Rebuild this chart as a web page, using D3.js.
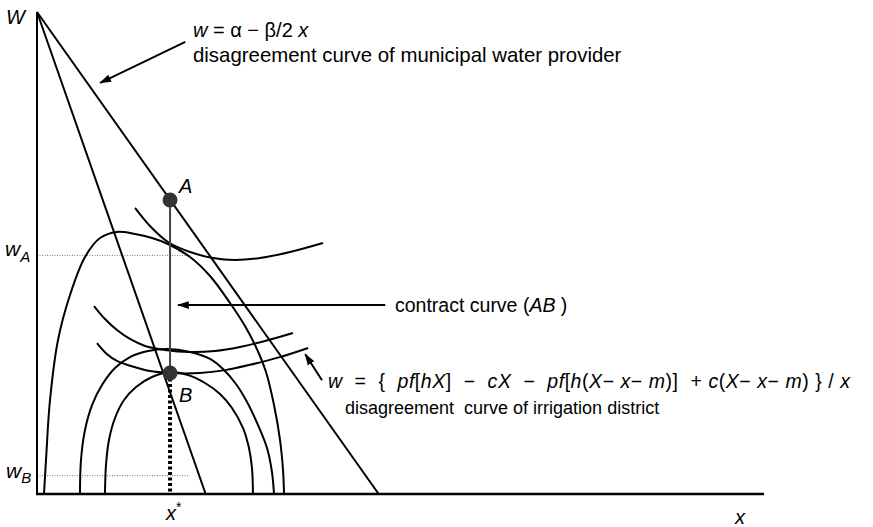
<!DOCTYPE html>
<html>
<head>
<meta charset="utf-8">
<script src="https://cdn.jsdelivr.net/npm/d3@7"></script>
<style>
  body { margin: 0; background: #fff; }
  svg text { font-family: "Liberation Sans", Arial, Helvetica, sans-serif; fill: #000; white-space: pre; }
</style>
</head>
<body>
<svg id="chart" width="873" height="527"></svg>
<script>
// values (chart units, x and W both 0..100)
let municipalLine = [[0, 100], [47.0, 0]]
let irrigationLine = [[0, 100], [23.2, 0]]

let humpOuter = [[0.96,0],[1.24,7.05],[1.79,19.5],[2.89,31.95],[4.54,41.29],[6.6,49.17],[8.67,53.11],[11.0,54.36],[13.48,53.94],[15.82,53.11],[18.02,51.87],[21.05,49.17],[23.8,45.23],[26.55,39.63],[28.61,34.85],[30.12,30.5],[31.5,25.31],[32.6,18.46],[33.43,11.2],[33.84,4.98],[33.98,0]]
let humpMiddle = [[5.91,0],[6.05,7.05],[6.6,13.28],[7.57,18.46],[8.94,22.61],[10.73,26.14],[12.79,28.42],[15.27,29.67],[17.88,30.08],[21.05,29.46],[23.8,28.01],[25.58,25.93],[27.37,22.82],[28.89,19.09],[30.4,14.32],[31.64,9.54],[32.32,4.56],[32.6,0]]
let humpInner = [[9.35,0],[9.49,6.02],[9.9,11.2],[10.73,15.77],[11.97,19.5],[13.62,22.2],[15.82,24.27],[18.29,25.31],[20.77,24.69],[23.11,23.03],[25.17,20.75],[26.82,17.84],[28.34,13.69],[29.16,9.54],[29.57,5.39],[29.71,0]]

let indiffTop = [[13.48,59.34],[15.54,55.6],[18.02,52.28],[21.05,50.21],[24.21,48.96],[27.24,48.55],[30.67,48.96],[34.8,50.21],[39.34,52.07]]
let indiffMid = [[7.84,39.0],[9.35,36.31],[11.0,34.02],[12.79,32.16],[14.86,30.71],[17.61,29.88],[21.05,29.46],[24.48,29.67],[27.92,30.5],[31.36,31.74],[35.21,33.4]]
let indiffLow = [[8.25,31.3],[9.6,29.05],[11.0,27.6],[12.8,26.6],[15.5,25.5],[18.3,25.1],[22.4,25.1],[25.9,25.7],[29.3,26.8],[33.4,28.4],[37.3,30.3]]

let pointA = [18.3, 61.0]
let pointB = [18.3, 25.1]
let xStar = 18.3
let wA = 49.5
let wB = 3.8

let arrows = [
  [[20.4, 93.8], [8.7, 85.3]],
  [[47.9, 39.2], [19.4, 39.2]],
  [[39.2, 23.6], [36.9, 29.0]]
]

let svg = d3.select("#chart")

let x = d3.scaleLinear().domain([0, 100]).range([37, 764])
let y = d3.scaleLinear().domain([0, 100]).range([494, 12])

let line = d3.line().x(d => x(d[0])).y(d => y(d[1]))
let smooth = d3.line().x(d => x(d[0])).y(d => y(d[1])).curve(d3.curveCatmullRom.alpha(0.5))

svg.append("defs").append("marker")
  .attr("id", "head")
  .attr("viewBox", "0 0 10 10")
  .attr("refX", 9).attr("refY", 5)
  .attr("markerWidth", 12).attr("markerHeight", 12)
  .attr("markerUnits", "userSpaceOnUse")
  .attr("orient", "auto")
  .append("path")
  .attr("d", "M0,1.8 L10,5 L0,8.2 Z")
  .attr("fill", "#000")

// guide lines for w_A, w_B
svg.selectAll(".guide")
  .data([wA, wB])
  .join("line")
  .attr("x1", x(0)).attr("x2", x(21))
  .attr("y1", d => y(d)).attr("y2", d => y(d))
  .attr("stroke", "#777").attr("stroke-width", 1).attr("stroke-dasharray", "1,1.5")

// axes
svg.append("line")
  .attr("x1", x(0)).attr("x2", x(0)).attr("y1", y(100)).attr("y2", y(0))
  .attr("stroke", "#000").attr("stroke-width", 2)
svg.append("line")
  .attr("x1", x(0) - 1).attr("x2", x(100)).attr("y1", y(0)).attr("y2", y(0))
  .attr("stroke", "#000").attr("stroke-width", 2.5)

// disagreement lines
svg.selectAll(".dline")
  .data([municipalLine, irrigationLine])
  .join("path")
  .attr("d", line)
  .attr("fill", "none").attr("stroke", "#000").attr("stroke-width", 2)

// curves
svg.selectAll(".curve")
  .data([humpOuter, humpMiddle, humpInner, indiffTop, indiffMid, indiffLow])
  .join("path")
  .attr("d", smooth)
  .attr("fill", "none").attr("stroke", "#000").attr("stroke-width", 2)

// x* dotted drop
svg.append("line")
  .attr("x1", x(xStar)).attr("x2", x(xStar))
  .attr("y1", y(pointB[1])).attr("y2", y(0))
  .attr("stroke", "#000").attr("stroke-width", 4).attr("stroke-dasharray", "3,2.5")

// contract curve
svg.append("line")
  .attr("x1", x(pointA[0])).attr("x2", x(pointB[0]))
  .attr("y1", y(pointA[1])).attr("y2", y(pointB[1]))
  .attr("stroke", "#444").attr("stroke-width", 2)

svg.selectAll(".pt")
  .data([pointA, pointB])
  .join("circle")
  .attr("cx", d => x(d[0])).attr("cy", d => y(d[1]))
  .attr("r", 7.5).attr("fill", "#333")

// arrows
svg.selectAll(".arrow")
  .data(arrows)
  .join("path")
  .attr("d", line)
  .attr("stroke", "#000").attr("stroke-width", 2)
  .attr("marker-end", "url(#head)")

// labels
function label(px, py, parts, size) {
  let t = svg.append("text").attr("x", px).attr("y", py).style("font-size", size + "px")
  parts.forEach(p => {
    let s = t.append("tspan").text(p[0])
    if (p[1]) s.style("font-style", "italic")
  })
  return t
}

label(6, 24, [["W", 1]], 20)
label(193, 37, [["w", 1], [" = α − β/2 ", 0], ["x", 1]], 20)
label(193, 62, [["disagreement curve of municipal water provider", 0]], 20.4)
label(179, 193, [["A", 1]], 20)
label(179, 402, [["B", 1]], 20)
label(395, 312, [["contract curve (", 0], ["AB", 1], [" )", 0]], 19.5)
label(328, 388, [["w", 1], ["  =  {  ", 0], ["pf", 1], ["[", 0], ["hX", 1], ["]  −  ", 0], ["cX", 1],
  ["  −  ", 0], ["pf", 1], ["[", 0], ["h", 1], ["(", 0], ["X", 1], ["− ", 0], ["x", 1], ["− ", 0], ["m", 1],
  [")]  + ", 0], ["c", 1], ["(", 0], ["X", 1], ["− ", 0], ["x", 1], ["− ", 0], ["m", 1], [") } / ", 0], ["x", 1]], 19.5)
  .attr("textLength", 522).attr("lengthAdjust", "spacing")
label(345, 414, [["disagreement  curve of irrigation district", 0]], 18)

let wa = label(5, 256, [["w", 1]], 21)
wa.append("tspan").attr("dy", 6).style("font-style", "italic").style("font-size", "15px").text("A")
let wb = label(6, 478, [["w", 1]], 21)
wb.append("tspan").attr("dy", 5).style("font-style", "italic").style("font-size", "15px").text("B")

let xs = label(166, 520, [["x", 1]], 20)
xs.append("tspan").attr("dy", -8).style("font-size", "14px").text("*")
label(735, 524, [["x", 1]], 20)
</script>
</body>
</html>
